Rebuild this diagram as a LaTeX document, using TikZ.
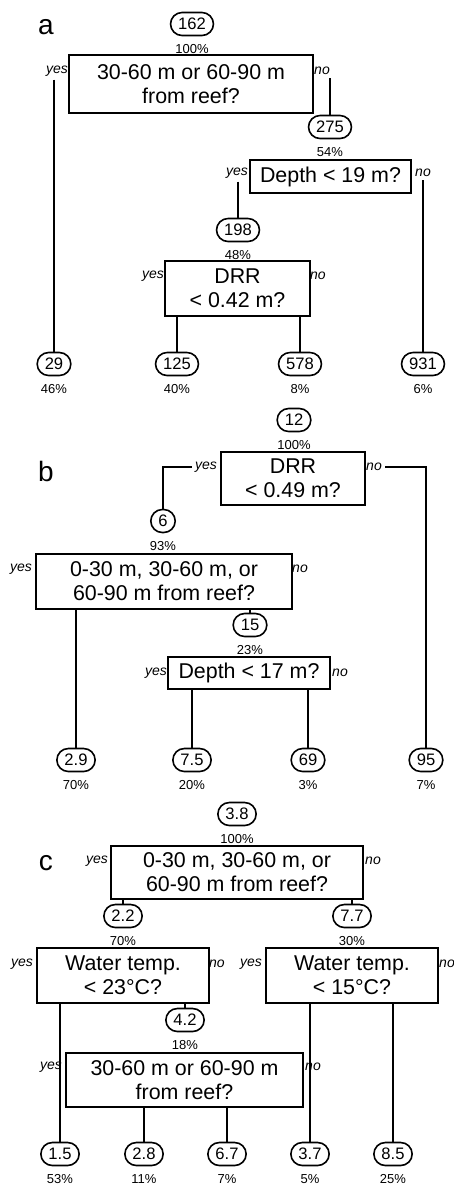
\documentclass[tikz,border=0pt]{standalone}
\usepackage{fontspec}
\setmainfont{Liberation Sans}
\usetikzlibrary{positioning}

\begin{document}
\begin{tikzpicture}[
    x=0.5pt, y=-0.5pt,
    node distance=4pt,
    split/.style={draw, line width=0.65pt, font=\fontsize{10.7}{12}\selectfont, align=center, inner sep=0pt},
    leaf/.style={draw, line width=0.8pt, rounded corners=5.75pt, minimum height=11.5pt, minimum width=11.5pt, inner xsep=3.8pt, inner ysep=0pt, font=\fontsize{8.3}{9}\selectfont},
    pct/.style={font=\fontsize{6.5}{7}\selectfont, inner sep=0pt},
    lbl/.style={font=\fontsize{7}{8}\selectfont\itshape, inner sep=1.5pt},
    tag/.style={font=\fontsize{14}{16}\selectfont, inner sep=0pt},
    edge/.style={line width=0.9pt}
]
\useasboundingbox (0,0) rectangle (454,1184);

% a. First tree
\node (ta) [tag] at (46,27) {a};
\node (a0) [leaf] at (192,24) {162};
\node (pa0) [pct, below=of a0] {100\%};
\node (qa1) [split, minimum width=122pt, minimum height=29pt] at (191,84) {30-60 m or 60-90 m\\from reef?};
\node (ya1) [lbl] at (57,71) {yes};
\node (na1) [lbl] at (322,71) {no};

\node (a1) [leaf] at (330,127) {275};
\node (pa1) [pct, below=of a1] {54\%};
\node (qa2) [split, minimum width=80.5pt, minimum height=16.5pt] at (330.5,176.5) {Depth < 19 m?};
\node (ya2) [lbl] at (237,173) {yes};
\node (na2) [lbl] at (423,173) {no};

\node (a2) [leaf] at (238,230) {198};
\node (pa2) [pct, below=of a2] {48\%};
\node (qa3) [split, minimum width=72.5pt, minimum height=27.5pt] at (237.5,288.5) {DRR\\< 0.42 m?};
\node (ya3) [lbl] at (153,276) {yes};
\node (na3) [lbl] at (318,276) {no};

% a. Leaves
\node (la1) [leaf] at (54,364) {29};
\node (pla1) [pct, below=of la1] {46\%};
\node (la2) [leaf] at (177,364) {125};
\node (pla2) [pct, below=of la2] {40\%};
\node (la3) [leaf] at (300,364) {578};
\node (pla3) [pct, below=of la3] {8\%};
\node (la4) [leaf] at (423,364) {931};
\node (pla4) [pct, below=of la4] {6\%};

\draw [edge] (ya1.south -| la1.north) -- (la1.north);
\draw [edge] (na1.south -| a1.north) -- (a1.north);
\draw [edge] (ya2.south -| a2.north) -- (a2.north);
\draw [edge] (na2.south -| la4.north) -- (la4.north);
\draw [edge] (qa3.south -| la2.north) -- (la2.north);
\draw [edge] (qa3.south -| la3.north) -- (la3.north);

% b. Second tree
\node (tb) [tag] at (46,471) {b};
\node (b0) [leaf] at (294,420) {12};
\node (pb0) [pct, below=of b0] {100\%};
\node (qb1) [split, minimum width=72pt, minimum height=26.5pt] at (293,478.5) {DRR\\< 0.49 m?};
\node (yb1) [lbl] at (206,467) {yes};
\node (nb1) [lbl] at (374,467) {no};

\node (b1) [leaf] at (163,521) {6};
\node (pb1) [pct, below=of b1] {93\%};
\node (qb2) [split, minimum width=128pt, minimum height=27.5pt] at (164,581.5) {0-30 m, 30-60 m, or\\60-90 m from reef?};
\node (yb2) [lbl] at (21,569) {yes};
\node (nb2) [lbl] at (300,569) {no};

\node (b2) [leaf] at (250,625) {15};
\node (pb2) [pct, below=of b2] {23\%};
\node (qb3) [split, minimum width=81pt, minimum height=16pt] at (249,673) {Depth < 17 m?};
\node (yb3) [lbl] at (156,673) {yes};
\node (nb3) [lbl] at (340,673) {no};

% b. Leaves
\node (lb1) [leaf] at (76,760) {2.9};
\node (plb1) [pct, below=of lb1] {70\%};
\node (lb2) [leaf] at (192,760) {7.5};
\node (plb2) [pct, below=of lb2] {20\%};
\node (lb3) [leaf] at (308,760) {69};
\node (plb3) [pct, below=of lb3] {3\%};
\node (lb4) [leaf] at (426,760) {95};
\node (plb4) [pct, below=of lb4] {7\%};

\draw [edge] (yb1.west) -| (b1.north);
\draw [edge] (nb1.east) -| (lb4.north);
\draw [edge] (qb2.south -| lb1.north) -- (lb1.north);
\draw [edge] (qb2.south -| b2.north) -- (b2.north);
\draw [edge] (qb3.south -| lb2.north) -- (lb2.north);
\draw [edge] (qb3.south -| lb3.north) -- (lb3.north);

% c. Third tree
\node (tc) [tag] at (46,863) {c};
\node (c0) [leaf] at (237,814) {3.8};
\node (pc0) [pct, below=of c0] {100\%};
\node (qc1) [split, minimum width=126pt, minimum height=26.5pt] at (237,872.5) {0-30 m, 30-60 m, or\\60-90 m from reef?};
\node (yc1) [lbl] at (97,861) {yes};
\node (nc1) [lbl] at (373,861) {no};

\node (c1) [leaf] at (123,916) {2.2};
\node (pc1) [pct, below=of c1] {70\%};
\node (c2) [leaf] at (352,916) {7.7};
\node (pc2) [pct, below=of c2] {30\%};

\node (qc2) [split, minimum width=86pt, minimum height=27.5pt] at (123,975.5) {Water temp.\\< 23°C?};
\node (yc2) [lbl] at (22,964) {yes};
\node (nc2) [lbl] at (217,964) {no};
\node (qc3) [split, minimum width=86pt, minimum height=27.5pt] at (352,975.5) {Water temp.\\< 15°C?};
\node (yc3) [lbl] at (251,964) {yes};
\node (nc3) [lbl] at (447,964) {no};

\node (c3) [leaf] at (185,1020) {4.2};
\node (pc3) [pct, below=of c3] {18\%};
\node (qc4) [split, minimum width=118.5pt, minimum height=27pt] at (184.5,1080) {30-60 m or 60-90 m\\from reef?};
\node (yc4) [lbl] at (51,1067) {yes};
\node (nc4) [lbl] at (313,1067) {no};

% c. Leaves
\node (lc1) [leaf] at (60,1154) {1.5};
\node (plc1) [pct, below=of lc1] {53\%};
\node (lc2) [leaf] at (144,1154) {2.8};
\node (plc2) [pct, below=of lc2] {11\%};
\node (lc3) [leaf] at (227,1154) {6.7};
\node (plc3) [pct, below=of lc3] {7\%};
\node (lc4) [leaf] at (310,1154) {3.7};
\node (plc4) [pct, below=of lc4] {5\%};
\node (lc5) [leaf] at (393,1154) {8.5};
\node (plc5) [pct, below=of lc5] {25\%};

\draw [edge] (qc1.south -| c1.north) -- (c1.north);
\draw [edge] (qc1.south -| c2.north) -- (c2.north);
\draw [edge] (qc2.south -| lc1.north) -- (lc1.north);
\draw [edge] (qc2.south -| c3.north) -- (c3.north);
\draw [edge] (qc4.south -| lc2.north) -- (lc2.north);
\draw [edge] (qc4.south -| lc3.north) -- (lc3.north);
\draw [edge] (qc3.south -| lc4.north) -- (lc4.north);
\draw [edge] (qc3.south -| lc5.north) -- (lc5.north);

\end{tikzpicture}
\end{document}
